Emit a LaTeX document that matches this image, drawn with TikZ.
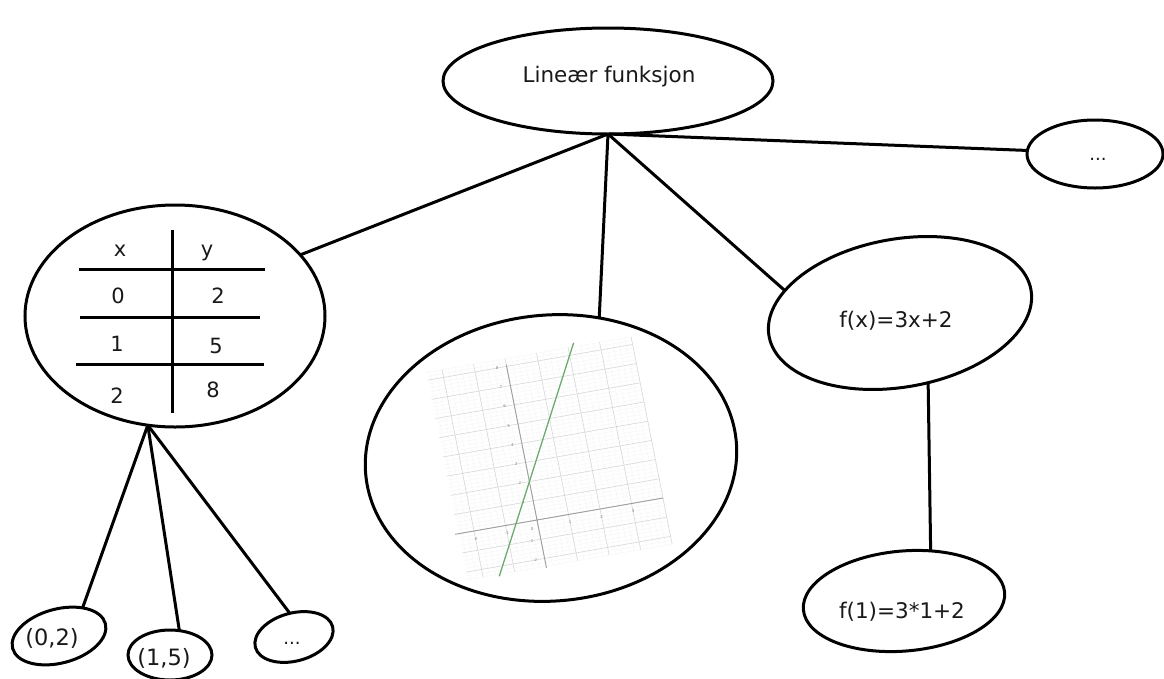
\documentclass[tikz,border=0pt]{standalone}
\usepackage{fontspec}
\setmainfont{DejaVu Sans}
\usetikzlibrary{shapes.geometric}
\definecolor{txt}{RGB}{25,25,25}
\definecolor{plotgreen}{RGB}{110,170,110}
\begin{document}
\begin{tikzpicture}[x=1pt,y=-1pt,
  ell/.style={ellipse, draw=black, line width=3pt, inner sep=0pt, outer sep=0pt},
  conn/.style={line width=3pt},
  lbl/.style={font=\fontsize{21.5}{24}\selectfont, text=txt, inner sep=0pt, anchor=base},
  small/.style={font=\fontsize{22.5}{26}\selectfont, text=txt, inner sep=0pt, anchor=base},
  tbl/.style={font=\fontsize{21}{24}\selectfont, text=txt, inner sep=0pt, anchor=base},
  minorgrid/.style={draw=gray!10, line width=0.3pt},
  majorgrid/.style={draw=gray!30, line width=0.6pt},
  axisline/.style={draw=gray!75, line width=0.9pt},
  tick/.style={font=\fontsize{4}{5}\selectfont, text=gray, inner sep=0pt},
]
\useasboundingbox (0,0) rectangle (1164,678);

% ---------- ellipses ----------
\node[ell, minimum width=330pt, minimum height=106pt] (top) at (608,81) {};
\node[lbl] (topt) at (609,82) {Lineær funksjon};

\node[ell, minimum width=136pt, minimum height=68pt] (dotsR) at (1095,154) {};
\node[lbl, font=\fontsize{18}{22}\selectfont] (dotsRt) at (1098,160) {...};

\node[ell, minimum width=300pt, minimum height=222pt] (tab) at (175,316) {};
\node[ell, minimum width=372pt, minimum height=286pt, rotate=5] (graph) at (551,458) {};
\node[ell, minimum width=266pt, minimum height=148pt, rotate=10] (fx) at (900,313) {};
\node[lbl] (fxt) at (896,327) {f(x)=3x+2};
\node[ell, minimum width=202pt, minimum height=100pt, rotate=5] (f1) at (904,601) {};
\node[lbl] (f1t) at (902,618) {f(1)=3*1+2};

\node[ell, minimum width=96pt, minimum height=54pt, rotate=15] (p02) at (59,636) {};
\node[small] (p02t) at (52,645) {(0,2)};
\node[ell, minimum width=84pt, minimum height=50pt] (p15) at (170,655) {};
\node[small] (p15t) at (164,665) {(1,5)};
\node[ell, minimum width=80pt, minimum height=48pt, rotate=15] (dotsB) at (294,637) {};
\node[lbl, font=\fontsize{18}{22}\selectfont] (dotsBt) at (292,644) {...};

% ---------- connectors ----------
\draw[conn] (top.south) -- (tab.26);
\draw[conn] (top.south) -- (graph.66);
\draw[conn] (top.south) -- (fx.159);
\draw[conn] (top.south) -- (dotsR.177);
\draw[conn] (tab.-104) -- (p02.35);
\draw[conn] (tab.-104) -- (p15.69);
\draw[conn] (tab.-104) -- (dotsB.85);
\draw[conn] (fx.-78) -- (f1.57);

% ---------- value table ----------
\draw[conn] (172,230) -- (172,413);
\draw[conn] (79,269) -- (265,269);
\draw[conn] (80,317) -- (260,317);
\draw[conn] (76,364) -- (264,364);
\node[tbl] (hx) at (120,256) {x};
\node[tbl] (hy) at (207,256) {y};
\node[tbl] (x0) at (118,303) {0};
\node[tbl] (y0) at (218,303) {2};
\node[tbl] (x1) at (117,351) {1};
\node[tbl] (y1) at (216,353) {5};
\node[tbl] (x2) at (117,403) {2};
\node[tbl] (y2) at (213,397) {8};

% ---------- graph picture ----------
\begin{scope}[shift={(537,520)}, x={(31.5pt,5.5pt)}, y={(-3.8pt,19.2pt)}]
  \foreach \i in {-12,...,20} \draw[minorgrid] (\i/5,-2.4) -- (\i/5,8.4);
  \foreach \j in {-12,...,42} \draw[minorgrid] (-2.5,\j/5) -- (4,\j/5);
  \foreach \i in {-2,...,4} \draw[majorgrid] (\i,-2.4) -- (\i,8.4);
  \foreach \j in {-2,...,8} \draw[majorgrid] (-2.5,\j) -- (4,\j);
  \draw[axisline] (-2.6,0) -- (4,0);
  \draw[axisline] (0,-2.5) -- (0,8.1);
  \foreach \i in {-2,-1,1,2,3} \node[tick] (xl\i) at (\i,-0.4) {\i};
  \node[tick] (ol) at (-0.2,-0.4) {0};
  \foreach \j in {-2,-1,1,2,3,4,5,6,7,8} \node[tick] (yl\j) at (-0.3,\j) {\j};
  \draw[draw=plotgreen, line width=1.3pt] (-1.5,-2.5) -- (2.2,8.6);
\end{scope}
\end{tikzpicture}
\end{document}
